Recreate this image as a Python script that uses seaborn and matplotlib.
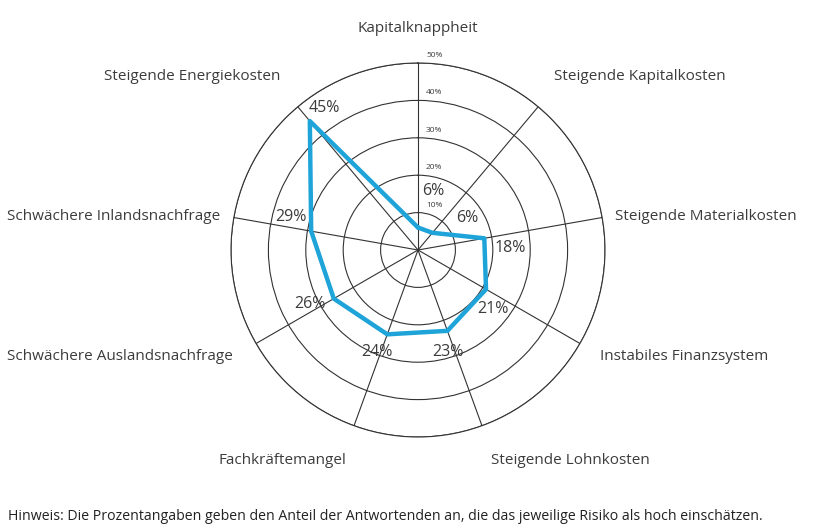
import numpy as np
import pandas as pd
import matplotlib.pyplot as plt
import seaborn as sns

sns.set_style("white")
plt.rcParams['font.family'] = ['Open Sans', 'DejaVu Sans']

categories = [
    'Kapitalknappheit',
    'Steigende Kapitalkosten',
    'Steigende Materialkosten',
    'Instabiles Finanzsystem',
    'Steigende Lohnkosten',
    'Fachkräftemangel',
    'Schwächere Auslandsnachfrage',
    'Schwächere Inlandsnachfrage',
    'Steigende Energiekosten',
]
values = [6, 6, 18, 21, 23, 24, 26, 29, 45]
ring_ticks = [10, 20, 30, 40, 50]
ring_labels = ['10%', '20%', '30%', '40%', '50%']
note = 'Hinweis: Die Prozentangaben geben den Anteil der Antwortenden an, die das jeweilige Risiko als hoch einschätzen.'

# label placement (figure pixels, centre of text)
cat_pos = [(418, 28), (640, 77), (706, 216), (684, 357), (570, 461),
           (282, 461), (120, 357), (114, 216), (192, 77)]
# offsets of value labels from their point (pixels, x right / y up)
val_off = [(15, 37), (35, 15), (26, -10), (7, -20), (1, -21),
           (-10, -18), (-24, -5), (-20, 14), (14, 13)]

W, H = 820, 530
text_col = '#3c3c3c'
line_col = '#1ea4d9'

n = len(categories)
theta = np.arange(n) * 2 * np.pi / n
df = pd.DataFrame({'theta': np.append(theta, theta[0] + 2 * np.pi),
                   'value': values + values[:1]})

fig = plt.figure(figsize=(W / 100, H / 100), dpi=100)
cx, cy, rad = 418, 250, 187
ax = fig.add_axes([(cx - rad) / W, (H - cy - rad) / H, 2 * rad / W, 2 * rad / H],
                  projection='polar')
ax.set_theta_zero_location('N')
ax.set_theta_direction(-1)

sns.lineplot(data=df, x='theta', y='value', sort=False, estimator=None,
             color=line_col, linewidth=3.2, ax=ax, zorder=5)

ax.set_ylim(0, 50)
ax.set_yticks(ring_ticks)
ax.set_yticklabels([])
ax.set_xticks(theta)
ax.set_xticklabels([])
ax.grid(True, color='#333333', linewidth=0.8)
ax.spines['polar'].set_color('#333333')
ax.spines['polar'].set_linewidth(0.8)
ax.set_xlabel('')
ax.set_ylabel('')

for r, lab in zip(ring_ticks, ring_labels):
    ax.annotate(lab, xy=(0, r), xytext=(8, 4), textcoords='offset pixels',
                ha='left', va='bottom', fontsize=6, color=text_col)

for t, v, (dx, dy) in zip(theta, values, val_off):
    ax.annotate(f'{v}%', xy=(t, v), xytext=(dx, dy), textcoords='offset pixels',
                ha='center', va='center', fontsize=11.5, color=text_col, zorder=6)

for lab, (x, y) in zip(categories, cat_pos):
    fig.text(x / W, 1 - y / H, lab, ha='center', va='center',
             fontsize=11, color=text_col)

fig.text(8 / W, 1 - 517 / H, note, ha='left', va='center', fontsize=10.2, color='#222222')

fig.savefig('out.png', dpi=100)
